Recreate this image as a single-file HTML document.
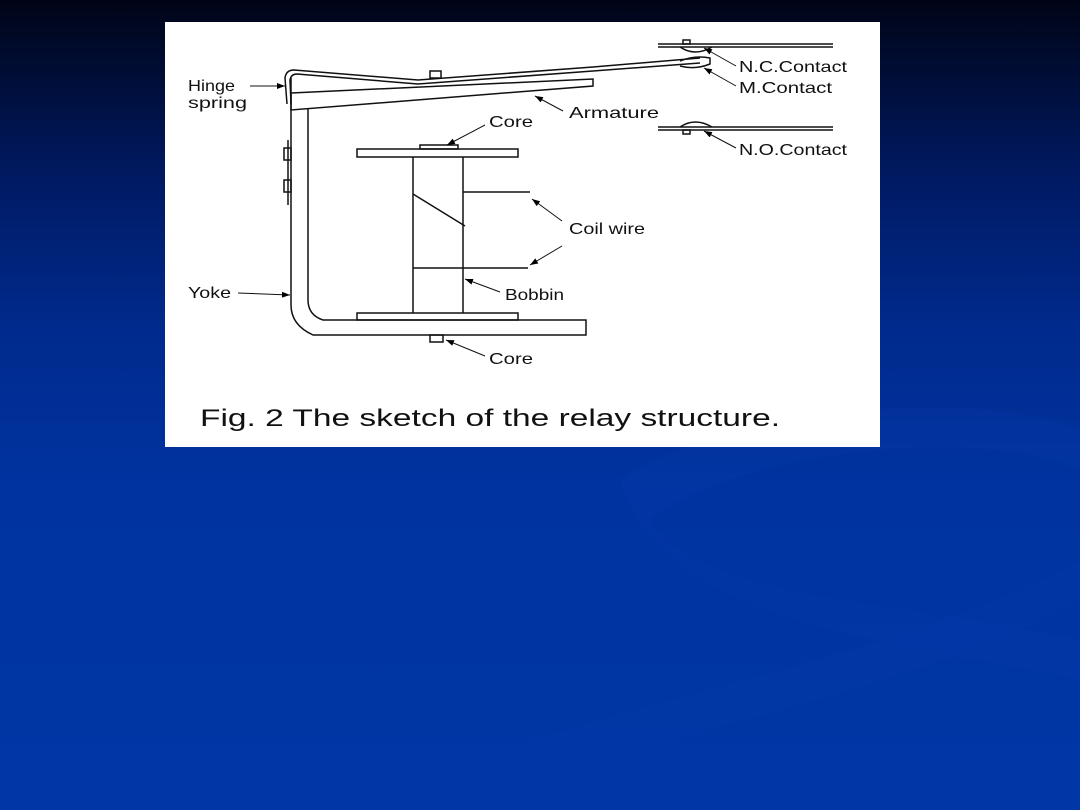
<!DOCTYPE html>
<html><head><meta charset="utf-8"><style>
html,body{margin:0;padding:0;width:1080px;height:810px;overflow:hidden;}
body{background:linear-gradient(180deg,#000416 0%,#001a63 22%,#002a8c 40%,#0033a0 60%,#0036a6 100%);position:relative;}
svg{position:absolute;left:0;top:0;}
text{font-family:"Liberation Sans",sans-serif;fill:#111;}
</style></head><body>
<svg width="1080" height="810" viewBox="0 0 1080 810">
<defs><marker id="a" markerWidth="8" markerHeight="6" refX="8" refY="3" orient="auto" markerUnits="userSpaceOnUse"><path d="M0,0 L8,3 L0,6 z" fill="#000"/></marker></defs>
<path d="M620,480 C700,420 960,380 1080,430 L1080,470 C960,420 720,460 650,520 C700,600 900,600 1080,640 L1080,680 C880,640 660,620 620,480z" fill="#0a3fb0" opacity="0.18"/>
<path d="M400,790 C600,700 900,660 1080,560 L1080,600 C900,700 620,740 430,810z" fill="#0a3fb0" opacity="0.15"/>
<rect x="165" y="22" width="715" height="425" fill="#fff"/>
<g stroke="#111" stroke-width="1.5" fill="none">
<path d="M291,78 L291,305 Q291,325 313,335 L586,335 L586,320 L323,320 Q308,315 308,300 L308,108"/>
<rect x="284" y="148" width="7" height="12"/><rect x="284" y="180" width="7" height="12"/>
<line x1="288" y1="140" x2="288" y2="205"/>
<path d="M291,93 L593,79 L593,86 L291,110 Z"/>
<path d="M287,104 L285,78 Q286,70 294,70 L418,80 L593,67"/>
<path d="M291,104 L290,80 Q291,74 297,74 L418,84 L593,71"/>
<rect x="430" y="71" width="11" height="7"/>
<line x1="593" y1="67" x2="700" y2="58"/><line x1="593" y1="71" x2="700" y2="63"/>
<path d="M680,61 Q695,55 710,58 L710,64 Q695,70 680,66"/>
<line x1="658" y1="44" x2="833" y2="44"/><line x1="658" y1="47" x2="833" y2="47"/>
<path d="M680,47 Q695,57 712,47"/><rect x="683" y="40" width="7" height="4"/>
<line x1="658" y1="127" x2="833" y2="127"/><line x1="658" y1="130" x2="833" y2="130"/>
<path d="M680,127 Q695,117 712,127"/><rect x="683" y="130" width="7" height="4"/>
<rect x="357" y="149" width="161" height="8"/><rect x="420" y="145" width="38" height="4"/>
<line x1="413" y1="157" x2="413" y2="313"/><line x1="463" y1="157" x2="463" y2="313"/>
<rect x="357" y="313" width="161" height="7"/><rect x="430" y="335" width="13" height="7"/>
<line x1="413" y1="194" x2="465" y2="226"/>
<line x1="463" y1="192" x2="530" y2="192"/>
<line x1="413" y1="268" x2="528" y2="268"/>
</g>
<g stroke="#111" stroke-width="1" fill="none" marker-end="url(#a)">
<line x1="250" y1="86" x2="285" y2="86"/>
<line x1="238" y1="293" x2="290" y2="295"/>
<line x1="485" y1="125" x2="447" y2="145"/>
<line x1="563" y1="111" x2="535" y2="96"/>
<line x1="736" y1="66" x2="704" y2="48"/>
<line x1="736" y1="86" x2="704" y2="68"/>
<line x1="736" y1="148" x2="704" y2="131"/>
<line x1="562" y1="221" x2="532" y2="199"/>
<line x1="562" y1="246" x2="530" y2="265"/>
<line x1="500" y1="292" x2="465" y2="279"/>
<line x1="485" y1="356" x2="446" y2="340"/>
</g>
<g font-size="16" font-weight="300" lengthAdjust="spacingAndGlyphs">
<text x="188" y="91" textLength="47" lengthAdjust="spacingAndGlyphs">Hinge</text>
<text x="188" y="108" textLength="59" lengthAdjust="spacingAndGlyphs">spring</text>
<text x="188" y="298" textLength="43" lengthAdjust="spacingAndGlyphs">Yoke</text>
<text x="489" y="127" textLength="44" lengthAdjust="spacingAndGlyphs">Core</text>
<text x="569" y="118" textLength="90" lengthAdjust="spacingAndGlyphs">Armature</text>
<text x="739" y="72" textLength="108" lengthAdjust="spacingAndGlyphs">N.C.Contact</text>
<text x="739" y="93" textLength="93" lengthAdjust="spacingAndGlyphs">M.Contact</text>
<text x="739" y="155" textLength="108" lengthAdjust="spacingAndGlyphs">N.O.Contact</text>
<text x="569" y="234" textLength="76" lengthAdjust="spacingAndGlyphs">Coil wire</text>
<text x="505" y="300" textLength="59" lengthAdjust="spacingAndGlyphs">Bobbin</text>
<text x="489" y="364" textLength="44" lengthAdjust="spacingAndGlyphs">Core</text>
</g>
<text x="200" y="426" font-size="24" font-weight="300" textLength="580" lengthAdjust="spacingAndGlyphs">Fig. 2 The sketch of the relay structure.</text>
</svg>
</body></html>
